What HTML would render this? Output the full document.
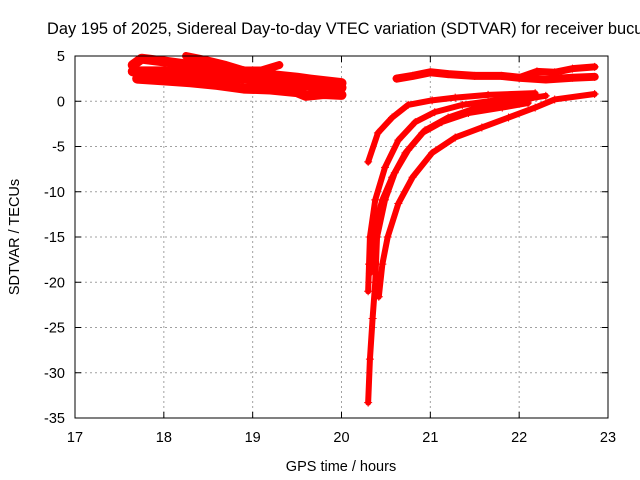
<!DOCTYPE html>
<html><head><meta charset="utf-8"><style>
body{margin:0;background:#fff;}
svg{display:block;font-family:"Liberation Sans",sans-serif;}
</style></head><body>
<svg id="chart" width="640" height="480">
<text x="47" y="34" font-size="16.4">Day 195 of 2025, Sidereal Day-to-day VTEC variation (SDTVAR) for receiver bucu</text>
<g id="grid"></g>
<g id="axes"></g>
<g id="series"></g>
<rect x="75" y="56" width="533" height="362" fill="none" stroke="#000" stroke-width="1"/>
<text x="341" y="471" font-size="14.5" text-anchor="middle">GPS time / hours</text>
<text transform="translate(19,237) rotate(-90)" font-size="14.5" text-anchor="middle">SDTVAR / TECUs</text>
</svg>
<script>
const xTicks=[17,18,19,20,21,22,23];
const yTicks=[5,0,-5,-10,-15,-20,-25,-30,-35];
const s1t=[17.65,17.75,18.0,18.3,18.6,18.9,19.2,19.5,19.65,20.0];
const s1v=[4.0,4.7,4.4,4.0,3.7,3.3,2.9,2.6,2.4,2.0];
const s2t=[17.65,18.0,18.3,18.6,18.9,19.2,19.5,20.0];
const s2v=[3.3,3.3,3.0,2.7,2.5,2.2,1.8,1.5];
const s3t=[17.7,18.0,18.3,18.6,18.9,19.2,19.5,19.6,19.8,20.0];
const s3v=[2.5,2.3,2.1,1.8,1.4,1.3,1.0,0.6,0.8,0.7];
const s4t=[18.25,18.45,18.7,18.9,19.1,19.3];
const s4v=[5.0,4.6,4.0,3.4,3.4,4.0];
const s5t=[20.62,20.8,21.0,21.2,21.5,21.8,22.0,22.3,22.6,22.85];
const s5v=[2.5,2.8,3.2,3.0,2.8,2.8,2.6,2.4,2.6,2.7];
const s6t=[22.0,22.2,22.4,22.6,22.85];
const s6v=[2.6,3.3,3.2,3.6,3.8];
const s7t=[20.30,20.41,20.57,20.75,21.02,21.28,21.65,22.18];
const s7v=[-6.7,-3.5,-1.8,-0.4,0.1,0.4,0.7,0.9];
const s8t=[20.30,20.31,20.32,20.38,20.49,20.64,20.83,21.05,21.36,21.73,22.10,22.3];
const s8v=[-21,-18,-15,-10.9,-7.3,-4.3,-2.3,-1.2,-0.4,0.1,0.3,0.6];
const s9t=[20.30,20.32,20.35,20.38,20.40,20.49,20.60,20.75,20.94,21.20,21.50,21.95,22.2];
const s9v=[-33.3,-28.5,-24,-20,-15,-10.9,-7.9,-5.4,-3.2,-1.8,-0.8,-0.2,0.5];
const s10t=[20.42,20.46,20.52,20.64,20.80,21.02,21.28,21.58,21.88,22.18,22.4,22.85];
const s10v=[-21.6,-18,-15,-11.3,-8.4,-5.7,-4.0,-2.9,-1.8,-0.7,0.2,0.8];
const s11t=[20.32,20.34,20.46,20.57,20.72,20.91,21.13,21.43,21.81,22.10];
const s11v=[-19,-15,-10.9,-8.4,-5.7,-3.5,-2.3,-1.3,-0.7,-0.2];
const seriesT=[s1t,s2t,s3t,s4t,s5t,s6t,s7t,s8t,s9t,s10t,s11t];
const seriesV=[s1v,s2v,s3v,s4v,s5v,s6v,s7v,s8v,s9v,s10v,s11v];
const seriesW=[10,10,10,8,8,7,6,6,6,6,6];

const X0=75,X1=608,Y0=56,Y1=418;
const xs=t=>X0+(t-17)/6*(X1-X0);
const ys=v=>Y0+(5-v)/40*(Y1-Y0);
const NS="http://www.w3.org/2000/svg";
const mk=(tag,attrs,parent)=>{const e=document.createElementNS(NS,tag);for(const k in attrs)e.setAttribute(k,attrs[k]);parent.appendChild(e);return e;};
const grid=document.getElementById('grid'),axes=document.getElementById('axes'),ser=document.getElementById('series');
xTicks.forEach(t=>{
  const x=xs(t);
  if(t>17&&t<23){const g=mk('line',{x1:x,y1:Y0,x2:x,y2:Y1,stroke:'#a0a0a0','stroke-dasharray':'2,3'},grid);
  
  }
  mk('line',{x1:x,y1:Y1,x2:x,y2:Y1-6,stroke:'#000'},axes);
  mk('line',{x1:x,y1:Y0,x2:x,y2:Y0+6,stroke:'#000'},axes);
  const l=mk('text',{x:x,y:Y1+24,'font-size':14.5,'text-anchor':'middle'},axes);l.textContent=t;
  
  
});
yTicks.forEach(v=>{
  const y=ys(v);
  if(v<5&&v>-35){const g=mk('line',{x1:X0,y1:y,x2:X1,y2:y,stroke:'#a0a0a0','stroke-dasharray':'2,3'},grid);
  
  }
  mk('line',{x1:X0,y1:y,x2:X0+6,y2:y,stroke:'#000'},axes);
  mk('line',{x1:X1,y1:y,x2:X1-6,y2:y,stroke:'#000'},axes);
  const l=mk('text',{x:X0-10,y:y+5,'font-size':14.5,'text-anchor':'end'},axes);l.textContent=v;
  
  
});
seriesT.forEach((T,i)=>{
  const V=seriesV[i];
  const pts=T.map((t,j)=>xs(t)+','+ys(V[j])).join(' ');
  const p=mk('polyline',{points:pts,fill:'none',stroke:'#ff0000','stroke-width':seriesW[i],'stroke-linejoin':'round','stroke-linecap':'round'},ser);
  
  
  T.forEach((t,j)=>{
    const x=xs(t),y=ys(V[j]);
    const m=mk('path',{d:`M${x-4},${y}H${x+4}M${x},${y-4}V${y+4}`,stroke:'#ff0000','stroke-width':1},ser);
    
    
  });
});
</script>
</body></html>
